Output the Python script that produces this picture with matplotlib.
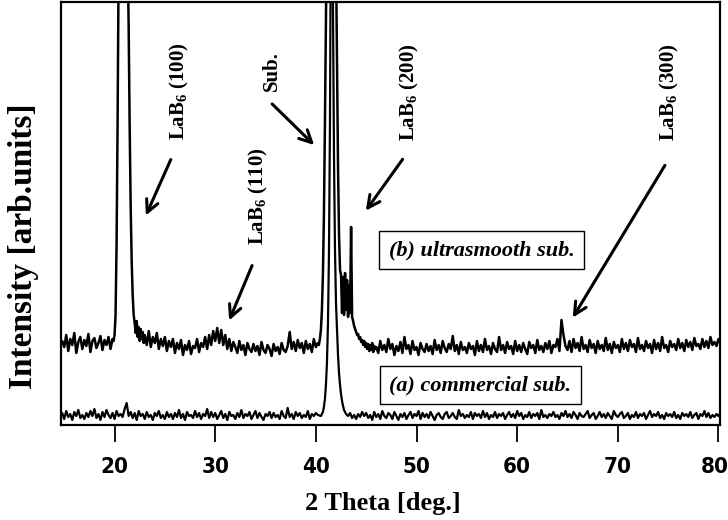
import numpy as np
import matplotlib
matplotlib.use("Agg")
import matplotlib.pyplot as plt
from matplotlib import font_manager as fm
from matplotlib.transforms import ScaledTranslation

# ---- data (intensity in arb. units) ----
# each series is built from segments: (start 2theta, step, intensities)

# (b) ultrasmooth substrate
b_seg1 = (14.6, 0.2, [80, 84, 78, 90, 74, 86, 80, 92, 72, 83, 88, 76, 85, 79, 91, 73,
                      84, 87, 77, 82, 89, 75, 85, 80, 88, 76, 86])
b_seg2 = (19.9, 0.1, [84, 90, 110, 180, 300, 450, 600, 700, 750, 760,
                      740, 700, 640, 560, 470, 400, 300, 220, 165, 130,
                      110, 102, 92, 104, 88, 98, 84, 96, 86, 93, 82])
b_seg3 = (23.0, 0.2, [90, 80, 94, 78, 88, 82, 92, 76, 86, 79, 88, 74, 84, 78, 86,
                      72, 82, 76, 85, 70, 80, 75, 84, 71, 79, 77, 86, 73, 82, 78,
                      88, 76, 90, 80, 94, 84, 97, 82, 95, 80, 90, 76, 86, 74, 83,
                      78, 72, 84, 75, 80, 70, 82, 76, 73, 81, 74, 79, 70, 83, 75,
                      72, 80, 76, 69, 81, 74, 78, 71, 82, 75, 73, 79, 93, 76, 83,
                      74, 85, 77, 82, 72, 84, 76, 81, 73, 86, 78, 82])
b_seg4 = (40.3, 0.1, [80, 86, 95, 115, 150, 210, 300, 400, 520, 650,
                      760, 820, 850, 840, 800, 720, 600, 470, 360, 260,
                      190, 155, 150, 112, 148, 110, 152, 115, 145, 108,
                      140, 112, 198, 108, 104, 99, 96, 93, 90, 91,
                      86, 88, 83, 85, 80, 84, 78, 82, 76, 81,
                      74, 80, 75, 82, 73, 79, 76])
b_seg5 = (46.0, 0.2, [78, 72, 84, 75, 80, 73, 86, 76, 81, 70, 79, 74, 83, 72, 88,
                      76, 80, 71, 84, 75, 78, 70, 82, 76, 73, 81, 74, 79, 71, 85,
                      75, 80, 72, 84, 77, 73, 81, 76, 89, 74, 80, 71, 83, 75, 78,
                      72, 82, 76, 79, 70, 84, 74, 80, 73, 86, 75, 79, 71, 82, 76,
                      73, 88, 75, 80, 72, 83, 76, 79, 71, 84, 74, 80, 73, 82, 76,
                      71, 83, 77, 80, 72, 85, 75, 79, 73, 82, 76, 84, 72, 80, 78,
                      86, 74, 105, 90, 79, 75, 84, 73, 86, 77, 82, 74, 88, 76, 80,
                      73, 85, 77, 81, 72, 84, 76, 80, 74, 87, 75, 81, 72, 83, 77,
                      80, 73, 86, 76, 82, 74, 85, 78, 81, 73, 87, 76, 80, 74, 84,
                      77, 81, 72, 85, 76, 82, 74, 88, 77, 80, 73, 84, 78, 81, 75,
                      86, 77, 82, 74, 85, 78, 83, 75, 87, 79, 81, 76, 86, 78, 84,
                      77, 88, 80, 83, 79, 86, 81])

# (a) commercial substrate
a_seg1 = (14.6, 0.2, [9, 12, 6, 14, 8, 11, 5, 13, 9, 15, 7, 10, 6, 12, 8, 14,
                      9, 16, 7, 11, 5, 13, 8, 15, 10, 7, 12, 6, 14, 9, 11,
                      8, 16, 22, 9, 13, 7, 12, 5, 14, 9, 11, 6, 13, 8, 10,
                      5, 12, 9, 14, 7, 10, 6, 13, 8, 11, 6, 12, 8, 15, 7,
                      11, 5, 13, 9, 10, 7, 14, 8, 12, 6, 11, 9, 16, 7, 13,
                      8, 12, 6, 10, 14, 7, 11, 5, 13, 9, 10, 6, 12, 8, 15,
                      7, 11, 9, 13, 6, 10, 14, 7, 12, 8, 5, 11, 9, 13, 7,
                      12, 8, 10, 6, 14, 9, 7, 17, 8, 11, 6, 13, 9, 12, 7,
                      10, 8, 14, 6, 11, 9, 12, 10])
a_seg2 = (40.5, 0.1, [9, 11, 13, 18, 26, 40, 62, 100, 170, 300,
                      520, 560, 420, 270, 175, 122, 95, 70, 52, 40,
                      31, 24, 19, 15, 13, 11])
a_seg3 = (43.2, 0.2, [9, 12, 7, 10, 6, 11, 8, 13, 9, 12, 7, 10, 5, 13,
                      8, 11, 6, 14, 9, 7, 12, 10, 6, 13, 9, 5, 11, 8, 12,
                      6, 10, 13, 7, 11, 9, 14, 6, 12, 8, 11, 7, 13, 9, 5,
                      10, 12, 8, 6, 11, 13, 7, 9, 12, 8, 6, 15, 9, 11, 7,
                      10, 8, 13, 6, 12, 9, 11, 7, 14, 8, 12, 6, 10, 8, 13,
                      7, 11, 9, 12, 6, 10, 13, 8, 11, 7, 14, 9, 12, 6, 10,
                      8, 13, 7, 11, 9, 12, 6, 15, 8, 10, 7, 11, 9, 13, 8,
                      10, 6, 12, 9, 14, 8, 11, 7, 13, 10, 6, 12, 9, 8, 11,
                      14, 7, 10, 12, 6, 9, 13, 8, 11, 7, 12, 9, 6, 14, 10,
                      8, 11, 13, 7, 9, 12, 6, 10, 8, 13, 7, 11, 9, 12, 6,
                      10, 14, 8, 11, 9, 13, 7, 10, 6, 12, 9, 11, 8, 13, 7,
                      10, 6, 12, 9, 11, 8, 13, 7, 10, 12, 6, 11, 9, 14, 8,
                      12, 7, 10, 8, 11, 9, 12])

peak_labels = ["LaB$_6$ (100)", "Sub.", "LaB$_6$ (110)", "LaB$_6$ (200)", "LaB$_6$ (300)"]
label_pos = [(26.5, 334), (35.66, 354), (34.26, 229), (49.28, 333), (75.12, 333)]
arrow_tail = [(25.7, 268), (35.46, 323), (33.77, 162), (48.78, 268), (74.82, 262)]
arrow_head = [(23.0, 207), (40.03, 278), (31.28, 102), (44.8, 212), (65.38, 105)]

xticks = [20, 30, 40, 50, 60, 70, 80]


def build(*segs):
    xs, ys = [], []
    for start, step, vals in segs:
        xs.append(start + step * np.arange(len(vals)))
        ys.append(np.array(vals, dtype=float))
    return np.concatenate(xs), np.concatenate(ys)


def narrow_bold_font():
    # tick labels in the original are a condensed bold sans
    for f in fm.fontManager.ttflist:
        name = f.name.lower()
        narrow = 'narrow' in name or 'condensed' in name or str(f.stretch) in ('condensed', 'semi-condensed')
        bold = str(f.weight) in ('bold', '700')
        if narrow and bold:
            return fm.FontProperties(fname=f.fname, size=16)
    return fm.FontProperties(family='Liberation Sans', weight='bold', size=16)


theta_b, inten_b = build(b_seg1, b_seg2, b_seg3, b_seg4, b_seg5)
theta_a, inten_a = build(a_seg1, a_seg2, a_seg3)

plt.rcParams['mathtext.fontset'] = 'custom'
plt.rcParams['mathtext.rm'] = 'Liberation Serif:bold'
plt.rcParams['mathtext.it'] = 'Liberation Serif:bold:italic'
plt.rcParams['mathtext.bf'] = 'Liberation Serif:bold'

fig = plt.figure(figsize=(7.28, 5.20), dpi=100)
ax = fig.add_axes([61 / 728, 1 - 425 / 520, 659 / 728, 423 / 520])

ax.plot(theta_b, inten_b, color='black', lw=1.8)
ax.plot(theta_a, inten_a, color='black', lw=1.6)

ax.set_xlim(14.68, 80.15)
ax.set_ylim(0, 423)
ax.set_yticks([])
ax.set_xticks(xticks)
ax.tick_params(axis='x', direction='out', length=12, width=1.3, pad=11)
tick_font = narrow_bold_font()
for lab in ax.get_xticklabels():
    lab.set_fontproperties(tick_font)
# last label sits on the figure edge; nudge it in a little
last = ax.get_xticklabels()[-1]
last.set_transform(last.get_transform() + ScaledTranslation(-4 / 100, 0, fig.dpi_scale_trans))
for sp in ax.spines.values():
    sp.set_linewidth(1.6)

ax.set_xlabel("2 Theta [deg.]", family='Liberation Serif', fontweight='bold', fontsize=19)
ax.xaxis.set_label_coords(0.488, -0.158)
ax.set_ylabel("Intensity [arb.units]", family='Liberation Serif', fontweight='bold', fontsize=24)
ax.yaxis.set_label_coords(-0.034, 0.423)

for txt, pos, tail, head in zip(peak_labels, label_pos, arrow_tail, arrow_head):
    ax.text(pos[0], pos[1], txt, rotation=90, ha='center', va='center',
            family='Liberation Serif', fontweight='bold', fontsize=15)
    ax.annotate("", xy=head, xytext=tail,
                arrowprops=dict(arrowstyle='->', lw=2.2, mutation_scale=22, color='black'))

box = dict(boxstyle='square,pad=0.42', facecolor='white', edgecolor='black', lw=1.0)
ax.text(56.45, 175, "(b) ultrasmooth sub.", ha='center', va='center', family='Liberation Serif',
        fontweight='bold', style='italic', fontsize=16, bbox=box)
ax.text(56.35, 40, "(a) commercial sub.", ha='center', va='center', family='Liberation Serif',
        fontweight='bold', style='italic', fontsize=16, bbox=box)

fig.savefig("out.png", dpi=100)
